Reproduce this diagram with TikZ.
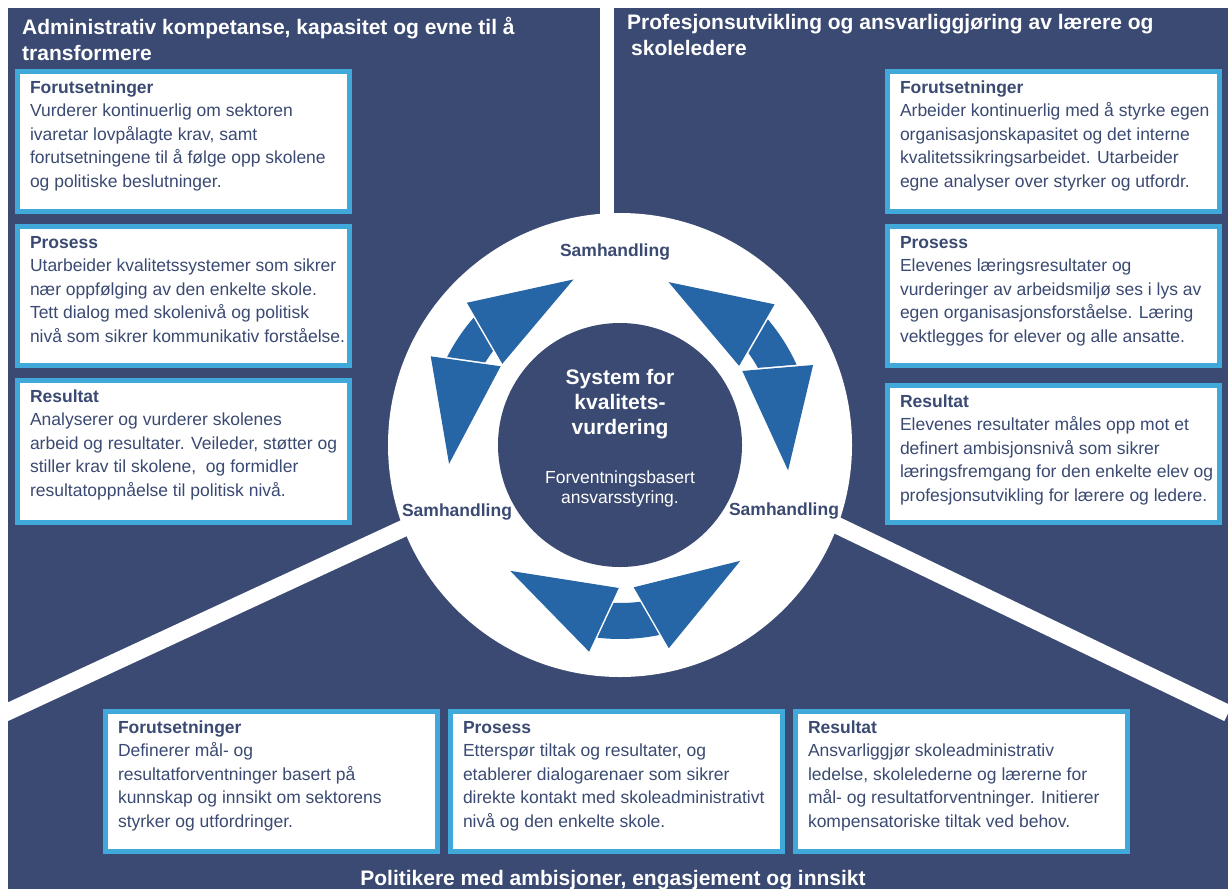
\documentclass[tikz,border=0pt]{standalone}
\usepackage{fontspec}
\setmainfont{Liberation Sans}
\usetikzlibrary{positioning}

\definecolor{marine}{HTML}{3B4A72}
\definecolor{lysblaa}{HTML}{40A9DA}
\definecolor{pilblaa}{HTML}{2666A6}

\newcommand{\brodtekst}{\fontsize{17.5}{23.5}\selectfont}
\newcommand{\titteltekst}{\fontsize{21}{25.5}\selectfont\bfseries}

% dobbel sirkelpil: #1 midtvinkel, #2 spiss, #3 ytre hjørne, #4 indre hjørne, #5 spissradius
\newcommand{\dobbelpil}[5]{%
  \pgfmathsetmacro{\pilby}{#3-0.227*(#3-#4)}
  \pgfmathsetmacro{\pilbi}{#3-0.773*(#3-#4)}
  \fill[pilblaa] ({#1-#2}:#5) -- ({#1-#3}:209) -- ({#1-#4}:143) -- cycle;
  \fill[pilblaa] ({#1+#2}:#5) -- ({#1+#3}:209) -- ({#1+#4}:143) -- cycle;
  \fill[pilblaa] ({#1-\pilby}:194) arc[start angle={#1-\pilby}, end angle={#1+\pilby}, radius=194]
    -- ({#1+\pilbi}:158) arc[start angle={#1+\pilbi}, end angle={#1-\pilbi}, radius=158] -- cycle;
}

\tikzset{
  boks/.style={draw=lysblaa, fill=white, line width=5pt, outer sep=2.5pt, inner sep=0pt,
    anchor=north west, minimum width=332pt, minimum height=140pt},
  tekst/.style={font=\brodtekst, text=marine, align=left, inner sep=0pt, outer sep=0pt},
  tittel/.style={font=\titteltekst, text=white, align=left, inner sep=0pt, anchor=north west},
  samhandling/.style={font=\fontsize{17.5}{20}\selectfont\bfseries, text=marine, inner sep=0pt, anchor=base},
  skille/.style={white, line width=17pt},
}

\begin{document}
\begin{tikzpicture}[x=1pt, y=-1pt]
\useasboundingbox (0,0) rectangle (1228,889);

% bakgrunn og skillelinjer
\fill[marine] (8,8) rectangle (1228,889);
\fill[white] (600,0) rectangle (614,250);
\draw[skille] (500,483.6) -- (0,715.4);
\draw[skille] (738,477.7) -- (1228,713.4);

% ring og midtsirkel
\fill[white] (620,445) circle[radius=232];
\fill[marine] (620,445) circle[radius=122];

\begin{scope}[shift={(620,445)}, yscale=-1]
  \dobbelpil{146}{40.3}{8.9}{0.6}{172}
  \dobbelpil{32.4}{41}{9.9}{1.2}{170}
  \dobbelpil{272.5}{43.6}{11}{3}{167}
\end{scope}

% midten
\node[font=\fontsize{21}{25}\selectfont\bfseries, text=white, align=center, inner sep=0pt, anchor=north]
  (system) at (620,367) {\strut System for\\kvalitets-\\vurdering};
\node[font=\fontsize{17.5}{20}\selectfont, text=white, align=center, inner sep=0pt, anchor=north]
  (ansvar) at (620,469) {\strut Forventningsbasert\\ansvarsstyring.};

\node[samhandling] (samtopp) at (615,256) {Samhandling};
\node[samhandling] (samvenstre) at (457,516) {Samhandling};
\node[samhandling] (samhoyre) at (784,515) {Samhandling};

% titler
\node[tittel] (ltittel) at (22,16.8) {\strut Administrativ kompetanse, kapasitet og evne til å\\transformere};
\node[tittel] (rtittel) at (627,11.8) {\strut Profesjonsutvikling og ansvarliggjøring av lærere og\\\hspace*{4pt}skoleledere};
\node[font=\titteltekst, text=white, inner sep=0pt, anchor=base] (btittel) at (613,885)
  {Politikere med ambisjoner, engasjement og innsikt};

% venstre kolonne
\node[boks, minimum height=140pt] (lforut) at (15,69) {};
\node[boks, minimum height=139pt] (lprosess) at (15,224) {};
\node[boks, minimum height=142pt] (lresultat) at (15,378) {};

\node[tekst, below right=8pt and 15pt of lforut.north west] (lforut-t)
  {\strut\textbf{Forutsetninger}\\Vurderer kontinuerlig om sektoren\\ivaretar lovpålagte krav, samt\\forutsetningene til å følge opp skolene\\og politiske beslutninger.};
\node[tekst, below right=8pt and 15pt of lprosess.north west] (lprosess-t)
  {\strut\textbf{Prosess}\\Utarbeider kvalitetssystemer som sikrer\\nær oppfølging av den enkelte skole.\\Tett dialog med skolenivå og politisk\\nivå som sikrer kommunikativ forståelse.};
\node[tekst, below right=8pt and 15pt of lresultat.north west] (lresultat-t)
  {\strut\textbf{Resultat}\\Analyserer og vurderer skolenes\\arbeid og resultater. Veileder, støtter og\\stiller krav til skolene,\ \ og formidler\\resultatoppnåelse til politisk nivå.};

% høyre kolonne
\node[boks, minimum height=140pt] (rforut) at (885,69) {};
\node[boks, minimum height=139pt] (rprosess) at (885,224) {};
\node[boks, minimum height=137pt] (rresultat) at (885,383) {};

\node[tekst, below right=8pt and 15pt of rforut.north west] (rforut-t)
  {\strut\textbf{Forutsetninger}\\Arbeider kontinuerlig med å styrke egen\\organisasjonskapasitet og det interne\\kvalitetssikringsarbeidet. Utarbeider\\egne analyser over styrker og utfordr.};
\node[tekst, below right=8pt and 15pt of rprosess.north west] (rprosess-t)
  {\strut\textbf{Prosess}\\Elevenes læringsresultater og\\vurderinger av arbeidsmiljø ses i lys av\\egen organisasjonsforståelse. Læring\\vektlegges for elever og alle ansatte.};
\node[tekst, below right=8pt and 15pt of rresultat.north west] (rresultat-t)
  {\strut\textbf{Resultat}\\Elevenes resultater måles opp mot et\\definert ambisjonsnivå som sikrer\\læringsfremgang for den enkelte elev og\\profesjonsutvikling for lærere og ledere.};

% nederste rad
\node[boks] (bforut) at (103,709) {};
\node[boks] (bprosess) at (448,709) {};
\node[boks] (bresultat) at (793,709) {};

\node[tekst, below right=8pt and 15pt of bforut.north west] (bforut-t)
  {\strut\textbf{Forutsetninger}\\Definerer mål- og\\resultatforventninger basert på\\kunnskap og innsikt om sektorens\\styrker og utfordringer.};
\node[tekst, below right=8pt and 15pt of bprosess.north west] (bprosess-t)
  {\strut\textbf{Prosess}\\Etterspør tiltak og resultater, og\\etablerer dialogarenaer som sikrer\\direkte kontakt med skoleadministrativt\\nivå og den enkelte skole.};
\node[tekst, below right=8pt and 15pt of bresultat.north west] (bresultat-t)
  {\strut\textbf{Resultat}\\Ansvarliggjør skoleadministrativ\\ledelse, skolelederne og lærerne for\\mål- og resultatforventninger. Initierer\\kompensatoriske tiltak ved behov.};
\end{tikzpicture}
\end{document}
